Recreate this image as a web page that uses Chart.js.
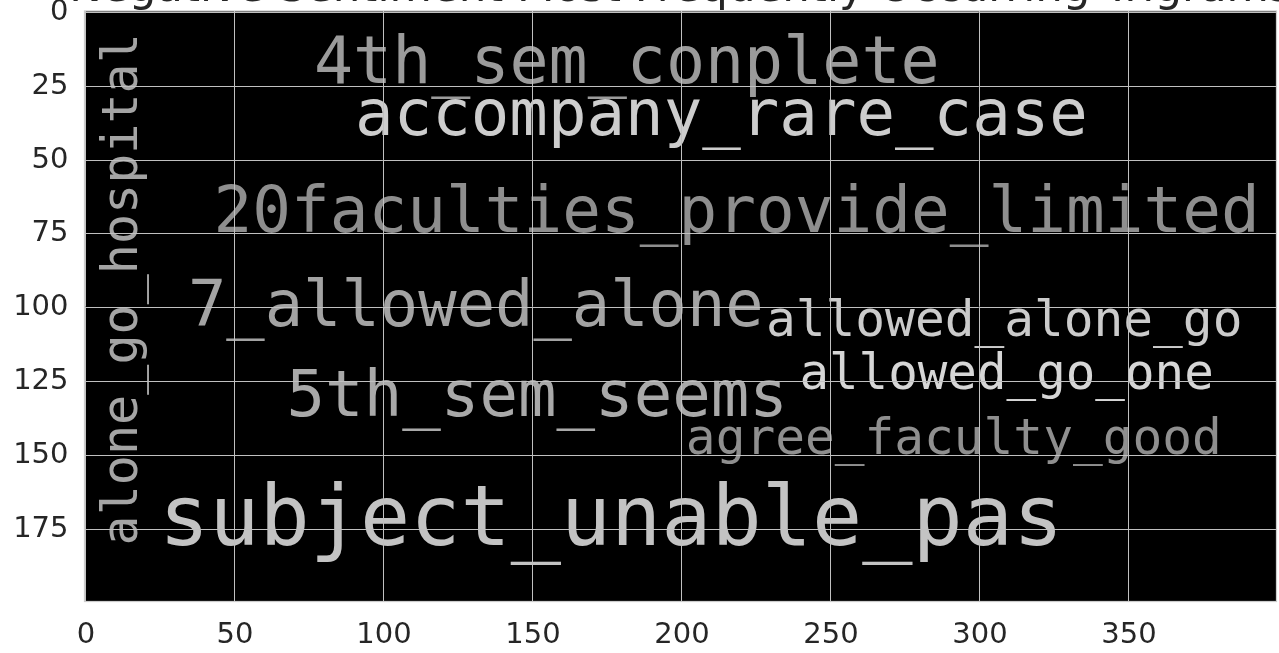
<!DOCTYPE html>
<html>
<head>
<meta charset="utf-8">
<script src="https://cdn.jsdelivr.net/npm/chart.js@4.4.1/dist/chart.umd.min.js"></script>
<style>
    html, body { margin: 0; padding: 0; background: #ffffff; }
    #wrap { width: 1279px; height: 653px; position: relative; }
</style>
</head>
<body>
<div id="wrap"><canvas id="cloud"></canvas></div>
<script>
// titulo (cortado arriba en la imagen original)
const chartTitle = "Negative Sentiment Most Frequently Occurring Trigrams";

// palabras del word cloud, en coordenadas de la imagen (400 x 200)
const words = [
    "4th_sem_conplete",
    "accompany_rare_case",
    "20faculties_provide_limited",
    "7_allowed_alone",
    "allowed_alone_go",
    "allowed_go_one",
    "5th_sem_seems",
    "agree_faculty_good",
    "subject_unable_pas",
    "alone_go_hospital"
];
const wordX = [76.5, 90.3, 42.8, 34.2, 228.2, 239.4, 67.3, 201.3, 24.5, 17.1];
const wordY = [24.0, 41.6, 74.2, 106.3, 109.6, 127.6, 136.7, 149.5, 180.3, 180.5];
const wordSize = [21.8, 21.5, 21.6, 21.4, 16.6, 16.5, 21.5, 16.6, 28.0, 16.8];
const wordGray = [155, 205, 142, 163, 203, 214, 169, 143, 195, 164];
const wordVertical = [false, false, false, false, false, false, false, false, false, true];

const xTicks = [0, 50, 100, 150, 200, 250, 300, 350];
const yTicks = [0, 25, 50, 75, 100, 125, 150, 175];

// fondo negro de la imagen
const imageBackground = {
    id: "imageBackground",
    beforeDraw(chart) {
        const { ctx, chartArea: a } = chart;
        ctx.save();
        ctx.fillStyle = "#000000";
        ctx.fillRect(a.left, a.top, a.right - a.left, a.bottom - a.top);
        ctx.restore();
    }
};

// dibuja cada palabra en la posicion de su punto
const wordText = {
    id: "wordText",
    afterDatasetsDraw(chart) {
        const { ctx, chartArea: a } = chart;
        const xs = chart.scales.x;
        const unit = Math.abs(xs.getPixelForValue(1) - xs.getPixelForValue(0));
        const meta = chart.getDatasetMeta(0);
        ctx.save();
        ctx.beginPath();
        ctx.rect(a.left, a.top, a.right - a.left, a.bottom - a.top);
        ctx.clip();
        meta.data.forEach((pt, i) => {
            const g = wordGray[i];
            ctx.save();
            ctx.fillStyle = `rgb(${g},${g},${g})`;
            ctx.font = `${wordSize[i] * unit}px "DejaVu Sans Mono"`;
            ctx.textAlign = "left";
            ctx.textBaseline = "alphabetic";
            ctx.translate(pt.x, pt.y);
            if (wordVertical[i]) ctx.rotate(-Math.PI / 2);
            ctx.fillText(words[i], 0, 0);
            ctx.restore();
        });
        ctx.restore();
    }
};

// marco y titulo
const frameAndTitle = {
    id: "frameAndTitle",
    afterDraw(chart) {
        const { ctx, chartArea: a } = chart;
        ctx.save();
        ctx.strokeStyle = "#cccccc";
        ctx.lineWidth = 1.25;
        ctx.strokeRect(a.left, a.top, a.right - a.left, a.bottom - a.top);
        ctx.fillStyle = "#262626";
        ctx.font = '43.5px "DejaVu Sans"';
        ctx.textAlign = "center";
        ctx.textBaseline = "alphabetic";
        ctx.fillText(chartTitle, (a.left + a.right) / 2, 1);
        ctx.restore();
    }
};

const tickFont = { family: "DejaVu Sans", size: 29 };

// sin relleno extra para las etiquetas que sobresalen
function noLabelPadding(scale) {
    scale.paddingTop = 0;
    scale.paddingBottom = 0;
    scale.paddingLeft = 0;
    scale.paddingRight = 0;
}

new Chart(document.getElementById("cloud"), {
    type: "scatter",
    data: {
        datasets: [{
            label: "words",
            data: words.map((w, i) => ({ x: wordX[i], y: wordY[i] })),
            pointRadius: 0,
            pointHoverRadius: 0
        }]
    },
    options: {
        responsive: true,
        maintainAspectRatio: false,
        animation: false,
        events: [],
        layout: { padding: { top: 11, right: 2.5, left: 0, bottom: 0 } },
        plugins: {
            legend: { display: false },
            tooltip: { enabled: false }
        },
        scales: {
            x: {
                type: "linear",
                min: -0.5,
                max: 399.5,
                afterBuildTicks: (scale) => { scale.ticks = xTicks.map(v => ({ value: v })); },
                afterFit: (scale) => { scale.height = 51.5; noLabelPadding(scale); },
                ticks: { font: tickFont, color: "#262626", padding: 17, maxRotation: 0, autoSkip: false },
                grid: { color: "#c0c0c0", lineWidth: 1, drawTicks: false, z: 1 },
                border: { display: false }
            },
            y: {
                type: "linear",
                reverse: true,
                min: -0.5,
                max: 199.5,
                afterBuildTicks: (scale) => { scale.ticks = yTicks.map(v => ({ value: v })); },
                afterFit: (scale) => { scale.width = 84.5; noLabelPadding(scale); },
                ticks: { font: tickFont, color: "#262626", padding: 16, autoSkip: false },
                grid: { color: "#c0c0c0", lineWidth: 1, drawTicks: false, z: 1 },
                border: { display: false }
            }
        }
    },
    plugins: [imageBackground, wordText, frameAndTitle]
});
</script>
</body>
</html>
